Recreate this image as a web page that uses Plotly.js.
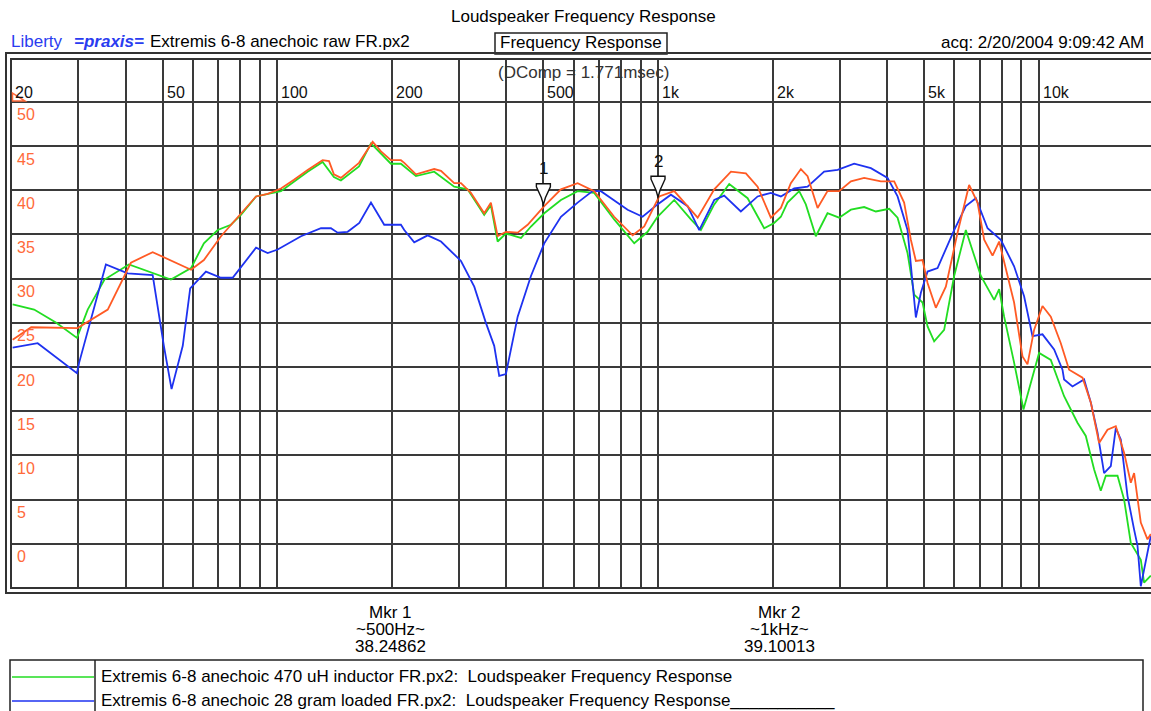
<!DOCTYPE html>
<html><head><meta charset="utf-8">
<script src="https://cdn.plot.ly/plotly-3.0.1.min.js"></script>
<style>html,body{margin:0;padding:0;background:#fff}#chart{width:1151px;height:711px}</style>
</head><body><div id="chart"></div><script>
// ---------- data ----------
const gridFreqs = [20,30,40,50,60,70,80,90,100,200,300,400,500,600,700,800,900,1000,2000,3000,4000,5000,6000,7000,8000,9000,10000];
const freqLabelVals = [20,50,100,200,500,1000,2000,5000,10000];
const freqLabelText = ['20','50','100','200','500','1k','2k','5k','10k'];
const dbTicks = [50,45,40,35,30,25,20,15,10,5,0];
const dbLabelText = ['50','45','40','35','30','25','20','15','10','5','0'];

const rawFreq = [20.2,22.6,29.9,35.9,41.3,47.1,59.4,64.2,71.2,80.3,88.0,94.4,102.3,110.7,120.2,131.6,136.8,140.9,147.0,164.0,178.1,187.3,198.9,211.3,215.6,231.4,258.4,269.2,291.6,303.8,322.6,349.6,364.0,379.2,398.6,428.0,454.6,502.6,556,615,680,767,858,920,1007,1103,1271,1405,1554,1701,1826,1978,2102,2232,2372,2470,2624,2786,2990,3210,3478,3848,4170,4428,4612,4754,4950,5102,5364,5698,6116,6560,6902,7184,7558,7866,8106,8610,9058,9336,9716,10222,10748,11418,12006,13020,13690,14396,15144,15924,16744,17436,17788,18522,19288,19676];
const rawDb = [23.1,24.5,24.4,26.5,31.8,33.0,31.0,32.1,34.8,37.4,39.3,39.6,40.2,41.2,42.3,43.4,43.3,41.8,41.4,43.1,45.5,44.4,43.4,43.4,43.1,41.8,42.4,42.2,40.8,40.8,39.7,37.4,38.6,34.8,35.3,35.2,36.1,38.2,40.1,40.8,39.9,37.0,34.9,35.9,39.3,39.9,36.9,40.1,42.1,41.9,40.4,36.9,38.0,40.8,42.4,41.6,38.0,39.9,39.9,41.0,41.4,41.0,41.0,38.6,34.4,32.0,32.1,29.5,26.7,29.1,35.2,40.6,38.6,34.4,32.6,34.2,31.8,27.3,21.2,20.3,24.2,26.9,25.7,22.7,19.7,18.8,16.0,11.4,12.9,13.3,10.3,6.9,8.0,2.4,0.5,1.1];

const inductorFreq = [20.2,23.0,26.3,29.8,31.8,35.2,40.8,47.5,52.6,59.4,64.2,69.8,75.6,80.3,88.0,102.3,120.2,131.6,140.9,147.0,164.0,176.3,198.9,211.3,231.4,258.4,291.6,316.2,349.6,364.0,379.2,398.6,436.6,463.8,502.6,556,615,680,767,866,939,997,1103,1220,1296,1405,1538,1719,1900,2018,2102,2188,2348,2444,2596,2786,2990,3210,3478,3732,4046,4256,4520,4706,4950,5102,5310,5640,5992,6430,7042,7632,7866,8106,8610,9112,10014,10748,11648,12630,13282,13968,14542,14990,16090,16744,17436,18522,18894,19676];
const inductorDb = [27.1,26.5,25.0,23.3,26.5,29.9,31.6,30.6,29.9,31.2,34.0,35.5,36.1,37.2,39.3,39.9,42.1,43.2,41.5,41.1,42.7,45.3,43.0,43.0,41.6,42.1,40.4,40.1,37.2,38.3,34.2,35.1,34.6,35.9,37.4,38.9,39.9,39.7,36.7,34.0,35.3,37.0,38.9,36.7,35.5,38.4,40.7,39.1,35.7,36.3,37.0,38.6,39.9,38.4,34.8,37.4,36.9,37.8,38.1,37.6,37.9,36.9,32.9,28.2,27.3,24.6,22.9,24.2,30.3,35.5,30.3,27.6,28.8,25.7,20.5,15.2,21.6,20.8,16.7,13.7,12.2,8.4,6.0,7.7,7.7,5.0,0.1,-1.8,-4.4,-3.6];

const loadedFreq = [20.2,23.5,29.8,30.2,35.5,40.5,47.1,50.4,52.8,56.5,59.1,65.0,71.2,76.4,88.0,94.4,100.3,115.5,130.3,138.4,144.1,153.1,164.3,176.3,191.0,211.3,215.6,229.0,248.4,269.2,303.8,329.2,353.2,371.4,382.8,398.6,428.0,463.8,502.6,556,615,673,708,767,832,911,997,1081,1196,1283,1405,1492,1650,1826,1978,2102,2278,2470,2730,2962,3274,3622,4006,4256,4520,4660,4754,4900,5102,5420,5992,6430,6832,7334,7946,8610,9146,9622,10222,10966,11536,11648,12254,13146,13690,14256,14836,15450,15924,16412,17094,17788,18156,18522,19090,19676];
const loadedDb = [22.2,22.7,19.3,20.5,31.6,30.6,30.4,22.4,17.5,22.4,28.9,30.8,30.1,30.1,33.5,32.9,33.3,34.8,35.7,35.7,35.2,35.3,36.3,38.6,36.1,36.1,35.5,34.1,34.9,34.2,32.0,29.1,25.0,22.4,19.0,19.2,25.7,30.3,34.0,37.0,38.6,39.9,39.9,38.9,37.8,37.0,38.4,39.5,38.2,35.5,38.9,39.4,37.6,39.3,39.7,39.3,40.2,40.4,42.1,42.3,43.0,42.5,41.4,39.3,35.5,29.5,25.6,28.4,30.8,31.2,35.5,38.2,39.1,35.7,34.4,31.4,28.0,23.5,23.7,22.0,19.7,18.6,17.8,18.6,16.0,12.6,8.0,8.8,13.1,11.8,5.4,1.6,-0.2,-4.8,-2.1,0.9];

const markerNum = ['1','2'];
const markerName = ['Mkr 1','Mkr 2'];
const markerFreq = [500,1000];
const markerFreqText = ['~500Hz~','~1kHz~'];
const markerValue = [38.24862,39.10013];

const legendNames = ['Extremis 6-8 anechoic 470 uH inductor FR.px2:  Loudspeaker Frequency Response',
                     'Extremis 6-8 anechoic 28 gram loaded FR.px2:  Loudspeaker Frequency Response___________'];

const chartTitle = 'Loudspeaker Frequency Response';
const headerFile = 'Extremis 6-8 anechoic raw FR.px2';
const boxTitle = 'Frequency Response';
const acqText = 'acq: 2/20/2004 9:09:42 AM';
const dcompText = '(DComp = 1.771msec)';

// ---------- style ----------
const ORANGE = '#ff5a24', GREEN = '#22dd22', BLUE = '#1e32f0', TICKORANGE = '#ff6a3a';
const FONT = 'Liberation Sans, Arial, sans-serif';
const W = 1151, H = 711, ML = 11, MR = 0, MT = 59, MB = 123;
const PW = W - ML - MR, PH = H - MT - MB;
const px = x => (x - ML) / PW;           // page pixel -> paper x
const py = y => (H - MB - y) / PH;       // page pixel -> paper y

const traces = [
  {x: inductorFreq, y: inductorDb, mode: 'lines', line: {color: GREEN, width: 1.8}, hoverinfo: 'skip'},
  {x: loadedFreq, y: loadedDb, mode: 'lines', line: {color: BLUE, width: 1.8}, hoverinfo: 'skip'},
  {x: rawFreq, y: rawDb, mode: 'lines', line: {color: ORANGE, width: 1.8}, hoverinfo: 'skip'}
];

const ann = [];
const shapes = [];
const txt = (x, y, text, opts) => Object.assign({xref: 'paper', yref: 'paper', x: px(x), y: py(y), text: text,
  showarrow: false, font: {family: FONT, size: 17, color: '#000'}, xanchor: 'center', yanchor: 'middle'}, opts || {});

// header
ann.push(txt(583, 17, chartTitle));
ann.push(txt(9, 42, 'Liberty', {xanchor: 'left', font: {family: FONT, size: 17, color: '#2a3cf0'}}));
ann.push(txt(72, 42, '<b><i>=praxis=</i></b>', {xanchor: 'left', font: {family: FONT, size: 17, color: '#2a3cf0'}}));
ann.push(txt(148, 42, headerFile, {xanchor: 'left'}));
ann.push(txt(581, 43, boxTitle));
ann.push(txt(1146, 43, acqText, {xanchor: 'right'}));
ann.push(txt(583, 72, dcompText, {font: {family: FONT, size: 17, color: '#333'}}));
shapes.push({type: 'rect', xref: 'paper', yref: 'paper', x0: px(495), x1: px(667), y0: py(33), y1: py(54),
  line: {color: '#222', width: 1.5}, fillcolor: 'rgba(0,0,0,0)'});

// frame (double line)
shapes.push({type: 'rect', xref: 'paper', yref: 'paper', x0: px(6), x1: px(1170), y0: py(53), y1: py(593),
  line: {color: '#333', width: 2}});
shapes.push({type: 'rect', xref: 'paper', yref: 'paper', x0: 0, x1: px(1170), y0: 0, y1: 1,
  line: {color: '#333', width: 2}});

// small orange axis glyph
shapes.push({type: 'path', xref: 'paper', yref: 'paper',
  path: `M${px(12.5)},${py(93)} L${px(12.5)},${py(101)} L${px(25)},${py(101)} Z`,
  line: {color: TICKORANGE, width: 1.5}});

// x tick labels (inside, top)
freqLabelVals.forEach((f, i) => ann.push({xref: 'x', yref: 'paper', x: Math.log10(f), y: py(92.5),
  text: freqLabelText[i], showarrow: false, xanchor: 'left', yanchor: 'middle', xshift: 2,
  font: {family: FONT, size: 16, color: '#111'}}));
// y tick labels (orange, inside, below gridline)
dbTicks.forEach((v, i) => ann.push({xref: 'paper', yref: 'y', x: 0, y: v, text: dbLabelText[i],
  showarrow: false, xanchor: 'left', yanchor: 'middle', xshift: 4, yshift: -13,
  font: {family: FONT, size: 16, color: TICKORANGE}}));

// markers
markerFreq.forEach((f, i) => {
  shapes.push({type: 'path', xref: 'x', yref: 'y', xsizemode: 'pixel', ysizemode: 'pixel',
    xanchor: f, yanchor: markerValue[i],
    path: 'M-7,22 L7,22 L7,19 L2,8 L0,1 L-2,8 L-7,19 Z',
    line: {color: '#111', width: 1.4}, fillcolor: '#fff'});
  ann.push({xref: 'x', yref: 'y', x: Math.log10(f), y: markerValue[i], yshift: 37, text: markerNum[i],
    showarrow: false, xanchor: 'center', yanchor: 'middle', font: {family: FONT, size: 17, color: '#111'}});
  const cx = i === 0 ? 390 : 779;
  ann.push(txt(cx, 612, markerName[i]));
  ann.push(txt(cx, 629, markerFreqText[i]));
  ann.push(txt(cx, 646, markerValue[i].toFixed(5)));
});

// legend box
shapes.push({type: 'rect', xref: 'paper', yref: 'paper', x0: px(10), x1: px(1143), y0: py(660), y1: py(713),
  line: {color: '#222', width: 1.5}});
shapes.push({type: 'line', xref: 'paper', yref: 'paper', x0: px(95), x1: px(95), y0: py(660), y1: py(713),
  line: {color: '#222', width: 1.5}});
const legendColors = [GREEN, BLUE];
const legendRows = [676, 700];
legendNames.forEach((n, i) => {
  shapes.push({type: 'line', xref: 'paper', yref: 'paper', x0: px(12), x1: px(94), y0: py(legendRows[i] + 1), y1: py(legendRows[i] + 1),
    line: {color: legendColors[i], width: 1.6}});
  ann.push(txt(99, legendRows[i], n, {xanchor: 'left', font: {family: FONT, size: 17, color: '#000'}}));
});

const layout = {
  width: W, height: H, margin: {l: ML, r: MR, t: MT, b: MB},
  paper_bgcolor: '#fff', plot_bgcolor: '#fff', showlegend: false,
  xaxis: {type: 'log', range: [Math.log10(20), Math.log10(19700)], tickvals: gridFreqs, showticklabels: false,
    ticks: '', showgrid: true, gridcolor: '#3a3a3a', gridwidth: 2, zeroline: false, showline: false, fixedrange: true},
  yaxis: {range: [-5, 54.85], tickvals: dbTicks, showticklabels: false, ticks: '', showgrid: true,
    gridcolor: '#3a3a3a', gridwidth: 2, zeroline: false, showline: false, fixedrange: true},
  annotations: ann, shapes: shapes
};
Plotly.newPlot('chart', traces, layout, {displayModeBar: false, staticPlot: true});
</script></body></html>
